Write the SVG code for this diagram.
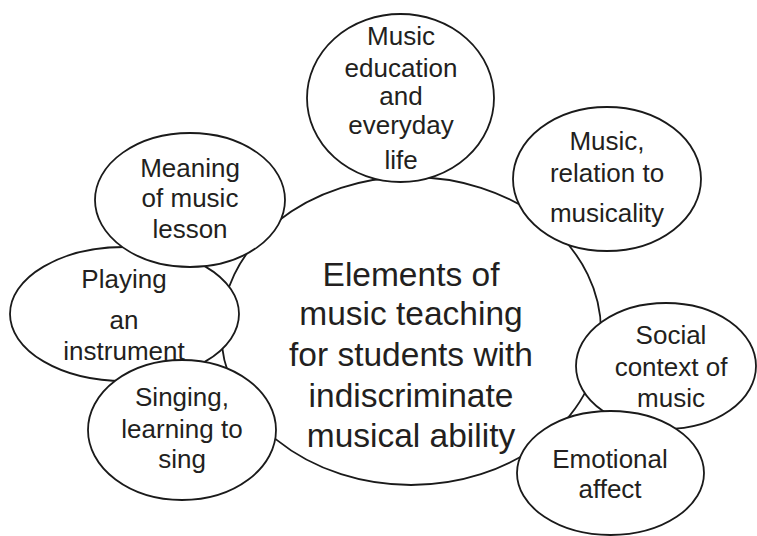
<svg xmlns="http://www.w3.org/2000/svg" width="757" height="536" viewBox="0 0 757 536">
<style>
.e{fill:#fff;stroke:#1a1a1a;stroke-width:1.8}
.t{font-family:"Liberation Sans",Arial,sans-serif;font-size:26px;fill:#231f20;text-anchor:middle}
.m{font-family:"Liberation Sans",Arial,sans-serif;font-size:33.5px;fill:#231f20;text-anchor:middle}
</style>
<rect width="757" height="536" fill="#fff"/>
<g id="connectors"></g>
<g id="center">
<ellipse class="e" cx="411" cy="331" rx="190" ry="154"/>
<text class="m" x="411" y="286">Elements of</text>
<text class="m" x="411" y="325">music teaching</text>
<text class="m" x="411" y="366">for students with</text>
<text class="m" x="411" y="407">indiscriminate</text>
<text class="m" x="411" y="447">musical ability</text>
</g>
<g id="education">
<ellipse class="e" cx="400.5" cy="98" rx="93.5" ry="84"/>
<text class="t" x="401" y="45">Music</text>
<text class="t" x="401" y="77">education</text>
<text class="t" x="401" y="105">and</text>
<text class="t" x="401" y="134">everyday</text>
<text class="t" x="401" y="169">life</text>
</g>
<g id="musicality">
<ellipse class="e" cx="607" cy="179" rx="94" ry="72"/>
<text class="t" x="607" y="150">Music,</text>
<text class="t" x="607" y="182">relation to</text>
<text class="t" x="607" y="222">musicality</text>
</g>
<g id="playing">
<ellipse class="e" cx="124.5" cy="314" rx="114.5" ry="67"/>
<text class="t" x="124" y="288">Playing</text>
<text class="t" x="124" y="329">an</text>
<text class="t" x="124" y="360">instrument</text>
</g>
<g id="meaning">
<ellipse class="e" cx="190" cy="200" rx="95" ry="67"/>
<text class="t" x="190" y="177">Meaning</text>
<text class="t" x="190" y="207">of music</text>
<text class="t" x="190" y="238">lesson</text>
</g>
<g id="singing">
<ellipse class="e" cx="182" cy="430" rx="94" ry="70"/>
<text class="t" x="182" y="406">Singing,</text>
<text class="t" x="182" y="438">learning to</text>
<text class="t" x="182" y="468">sing</text>
</g>
<g id="social">
<ellipse class="e" cx="666" cy="366" rx="90" ry="63"/>
<text class="t" x="671" y="344">Social</text>
<text class="t" x="671" y="376">context of</text>
<text class="t" x="671" y="407">music</text>
</g>
<g id="emotional">
<ellipse class="e" cx="610.5" cy="473" rx="93.5" ry="62"/>
<text class="t" x="610" y="468">Emotional</text>
<text class="t" x="610" y="498">affect</text>
</g>
</svg>
